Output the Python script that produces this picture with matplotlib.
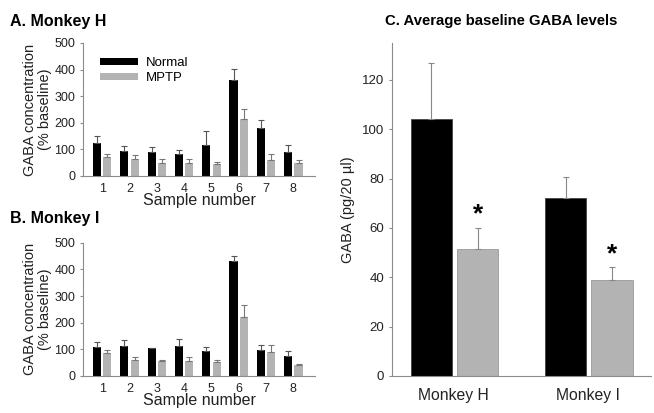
import numpy as np
import matplotlib.pyplot as plt

plt.rcParams['font.family'] = ['Liberation Sans', 'DejaVu Sans']

samples = [1, 2, 3, 4, 5, 6, 7, 8]

h_normal = [123, 92, 89, 83, 116, 359, 180, 89]
h_normal_err = [28, 22, 18, 15, 54, 44, 29, 29]
h_mptp = [70, 65, 50, 50, 45, 215, 59, 48]
h_mptp_err = [12, 12, 14, 13, 9, 37, 24, 11]

i_normal = [108, 113, 103, 111, 92, 431, 97, 74]
i_normal_err = [19, 21, 0, 27, 15, 19, 20, 21]
i_mptp = [84, 60, 55, 57, 52, 220, 89, 39]
i_mptp_err = [14, 12, 3, 12, 7, 48, 27, 5]

monkeys = ['Monkey H', 'Monkey I']
avg_normal = [104, 72]
avg_normal_err = [23, 8.5]
avg_mptp = [51.5, 39]
avg_mptp_err = [8.5, 5]

black = '#000000'
grey = '#b3b3b3'
spine = '#8c8c8c'
txt = '#222222'

fig = plt.figure(figsize=(6.54, 4.13), dpi=100)
axA = fig.add_axes([0.127, 0.574, 0.355, 0.322])
axB = fig.add_axes([0.127, 0.090, 0.355, 0.322])
axC = fig.add_axes([0.599, 0.090, 0.396, 0.806])


def sample_panel(ax, normal, nerr, mptp, merr, legend=False):
    x = np.array(samples)
    w = 0.3
    ax.bar(x - 0.19, normal, w, color=black, label='Normal',
           yerr=[np.zeros(8), nerr], error_kw=dict(ecolor='#555555', elinewidth=0.8, capsize=2, capthick=0.8))
    ax.bar(x + 0.19, mptp, w, color=grey, label='MPTP',
           yerr=[np.zeros(8), merr], error_kw=dict(ecolor='#777777', elinewidth=0.8, capsize=2, capthick=0.8))
    ax.set_xlim(0.3, 8.8)
    ax.set_ylim(0, 500)
    ax.set_yticks([0, 100, 200, 300, 400, 500])
    ax.set_xticks(samples)
    ax.tick_params(axis='x', length=0, labelsize=9, pad=5, labelcolor=txt)
    ax.tick_params(axis='y', length=2.5, labelsize=9, color=spine, pad=3, labelcolor=txt)
    for s in ['top', 'right']:
        ax.spines[s].set_visible(False)
    for s in ['left', 'bottom']:
        ax.spines[s].set_color(spine)
        ax.spines[s].set_linewidth(0.8)
    ax.set_ylabel('GABA concentration\n(% baseline)', fontsize=10.5, labelpad=2, linespacing=1.05, color=txt)
    ax.set_xlabel('Sample number', fontsize=11.5, labelpad=-1, color=txt)
    if legend:
        ax.legend(loc='upper left', bbox_to_anchor=(0.02, 0.98), frameon=False, fontsize=9.5,
                  handlelength=2.9, handleheight=0.4, handletextpad=0.6, labelspacing=0.2)


sample_panel(axA, h_normal, h_normal_err, h_mptp, h_mptp_err, legend=True)
sample_panel(axB, i_normal, i_normal_err, i_mptp, i_mptp_err)

xc = np.arange(len(monkeys))
axC.bar(xc - 0.165, avg_normal, 0.31, color=black, edgecolor='#444444', linewidth=0.6,
        yerr=[np.zeros(2), avg_normal_err], error_kw=dict(ecolor='#888888', elinewidth=0.8, capsize=2.5, capthick=0.8))
axC.bar(xc + 0.18, avg_mptp, 0.31, color=grey, edgecolor='#999999', linewidth=0.6,
        yerr=[np.zeros(2), avg_mptp_err], error_kw=dict(ecolor='#888888', elinewidth=0.8, capsize=2.5, capthick=0.8))
for xi, m, e in zip(xc, avg_mptp, avg_mptp_err):
    axC.text(xi + 0.18, m + e + 0.6, '*', ha='center', va='bottom', fontsize=19, fontweight='bold')
axC.set_xlim(-0.46, 1.47)
axC.set_ylim(0, 135)
axC.set_yticks([0, 20, 40, 60, 80, 100, 120])
axC.set_xticks(xc)
axC.set_xticklabels(monkeys)
axC.tick_params(axis='x', length=0, labelsize=11.3, pad=9, labelcolor=txt)
axC.tick_params(axis='y', length=2.5, labelsize=9.5, color=spine, pad=3, labelcolor=txt)
for s in ['top', 'right']:
    axC.spines[s].set_visible(False)
for s in ['left', 'bottom']:
    axC.spines[s].set_color(spine)
    axC.spines[s].set_linewidth(0.8)
axC.set_ylabel('GABA (pg/20 µl)', fontsize=10.5, labelpad=5, color=txt)

fig.text(0.015, 0.949, 'A. Monkey H', fontsize=11.5, fontweight='bold', va='center')
fig.text(0.015, 0.472, 'B. Monkey I', fontsize=11.5, fontweight='bold', va='center')
fig.text(0.589, 0.949, 'C. Average baseline GABA levels', fontsize=10.7, fontweight='bold', va='center')

fig.savefig('out.png', dpi=100)
